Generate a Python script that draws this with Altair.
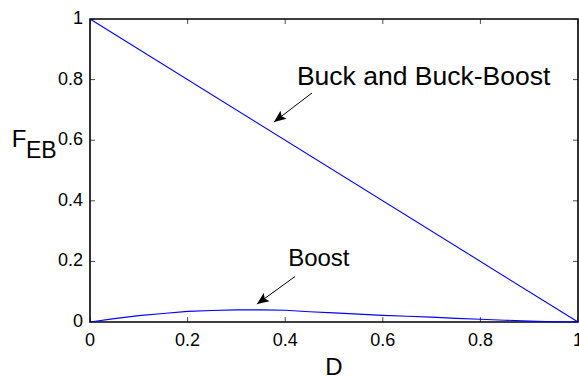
import altair as alt
import pandas as pd

# ---- data ----
buck_D = [0.0, 1.0]
buck_F = [1.0, 0.0]

boost_D = [0.0, 0.05, 0.10, 0.15, 0.20, 0.25, 0.30, 0.35, 0.40, 0.45, 0.50,
           0.55, 0.60, 0.65, 0.70, 0.75, 0.80, 0.85, 0.90, 0.95, 1.0]
boost_F = [0.0, 0.011, 0.021, 0.028, 0.035, 0.038, 0.040, 0.040, 0.039, 0.034, 0.030,
           0.026, 0.022, 0.019, 0.016, 0.012, 0.009, 0.006, 0.003, 0.001, 0.0]

tick_vals = [0.0, 0.2, 0.4, 0.6, 0.8, 1.0]
tick_labels = ["0", "0.2", "0.4", "0.6", "0.8", "1"]

# annotations (data coordinates)
ann_text = ["Buck and Buck-Boost", "Boost"]
ann_size = [26.5, 24]
ann_x = [0.424, 0.406]
ann_y = [0.782, 0.185]
arrow_x = [0.455, 0.420]      # tail
arrow_y = [0.756, 0.150]
arrow_x2 = [0.377, 0.342]     # tip
arrow_y2 = [0.660, 0.059]
arrow_angle = [232.6, 234.5]

W, H = 488, 303
FONT = "Liberation Sans"

df = pd.DataFrame({
    "D": buck_D + boost_D,
    "F": buck_F + boost_F,
    "series": ["buck"] * len(buck_D) + ["boost"] * len(boost_D),
})
ticks_df = pd.DataFrame({"v": tick_vals, "lab": tick_labels})
ann_df = pd.DataFrame({"text": ann_text, "x": ann_x, "y": ann_y, "size": ann_size})
arr_df = pd.DataFrame({"x": arrow_x, "y": arrow_y, "x2": arrow_x2, "y2": arrow_y2,
                       "angle": arrow_angle})

xs = alt.Scale(domain=[0, 1], nice=False, zero=False)
ys = alt.Scale(domain=[0, 1], nice=False, zero=False)

lines = alt.Chart(df).mark_line(color="#0000ff", strokeWidth=1.1).encode(
    x=alt.X("D:Q", scale=xs, axis=None),
    y=alt.Y("F:Q", scale=ys, axis=None),
    detail="series:N",
)

# inward ticks on all four sides: ticks centred on the frame, clipped to the plot
def xticks(ypix):
    return alt.Chart(ticks_df).mark_tick(
        color="#000", thickness=1, size=10, clip=True, orient="vertical"
    ).encode(x=alt.X("v:Q", scale=xs, axis=None), y=alt.value(ypix))

def yticks(xpix):
    return alt.Chart(ticks_df).mark_tick(
        color="#000", thickness=1, size=10, clip=True, orient="horizontal"
    ).encode(y=alt.Y("v:Q", scale=ys, axis=None), x=alt.value(xpix))

# tick labels drawn from the tick table through the same scales
xlabels = alt.Chart(ticks_df).mark_text(
    font=FONT, fontSize=18, align="center", baseline="top", color="#000"
).encode(x=alt.X("v:Q", scale=xs, axis=None), y=alt.value(H + 10), text="lab:N")

ylabels = alt.Chart(ticks_df).mark_text(
    font=FONT, fontSize=18, align="right", baseline="middle", color="#000"
).encode(y=alt.Y("v:Q", scale=ys, axis=None), x=alt.value(-7), text="lab:N")

xtitle = alt.Chart(pd.DataFrame({"t": ["D"]})).mark_text(
    font=FONT, fontSize=24, align="center", baseline="alphabetic", color="#000"
).encode(x=alt.value(W / 2), y=alt.value(H + 53), text="t:N")

ann = alt.Chart(ann_df).mark_text(
    font=FONT, align="left", baseline="alphabetic", color="#000"
).encode(
    x=alt.X("x:Q", scale=xs, axis=None),
    y=alt.Y("y:Q", scale=ys, axis=None),
    text="text:N",
    size=alt.Size("size:Q", scale=None, legend=None),
)

arr_line = alt.Chart(arr_df).mark_rule(color="#000", strokeWidth=1).encode(
    x=alt.X("x:Q", scale=xs, axis=None),
    y=alt.Y("y:Q", scale=ys, axis=None),
    x2="x2:Q", y2="y2:Q",
)

arr_head = alt.Chart(arr_df).mark_point(
    shape="M0,0L-0.42,1L0,0.8L0.42,1Z", filled=True, color="#000", opacity=1,
    size=576, strokeWidth=0,
).encode(
    x=alt.X("x2:Q", scale=xs, axis=None),
    y=alt.Y("y2:Q", scale=ys, axis=None),
    angle=alt.Angle("angle:Q", scale=None),
)

ylab_F = alt.Chart(pd.DataFrame({"t": ["F"]})).mark_text(
    font=FONT, fontSize=24, align="center", baseline="alphabetic", color="#000"
).encode(x=alt.value(-71), y=alt.value(128), text="t:N")
ylab_EB = alt.Chart(pd.DataFrame({"t": ["EB"]})).mark_text(
    font=FONT, fontSize=23, align="left", baseline="alphabetic", color="#000"
).encode(x=alt.value(-64), y=alt.value(139), text="t:N")

chart = alt.layer(
    lines, xticks(0), xticks(H), yticks(0), yticks(W),
    xlabels, ylabels, xtitle,
    ann, arr_line, arr_head, ylab_F, ylab_EB
).properties(
    width=W, height=H,
    autosize=alt.AutoSizeParams(type="none"),
    padding={"left": 90, "top": 19, "right": 1, "bottom": 56},
    background="#ffffff",
).configure_view(stroke="#000", strokeWidth=1.6)

chart.save("out.html", embed_options={"renderer": "svg", "actions": False})
